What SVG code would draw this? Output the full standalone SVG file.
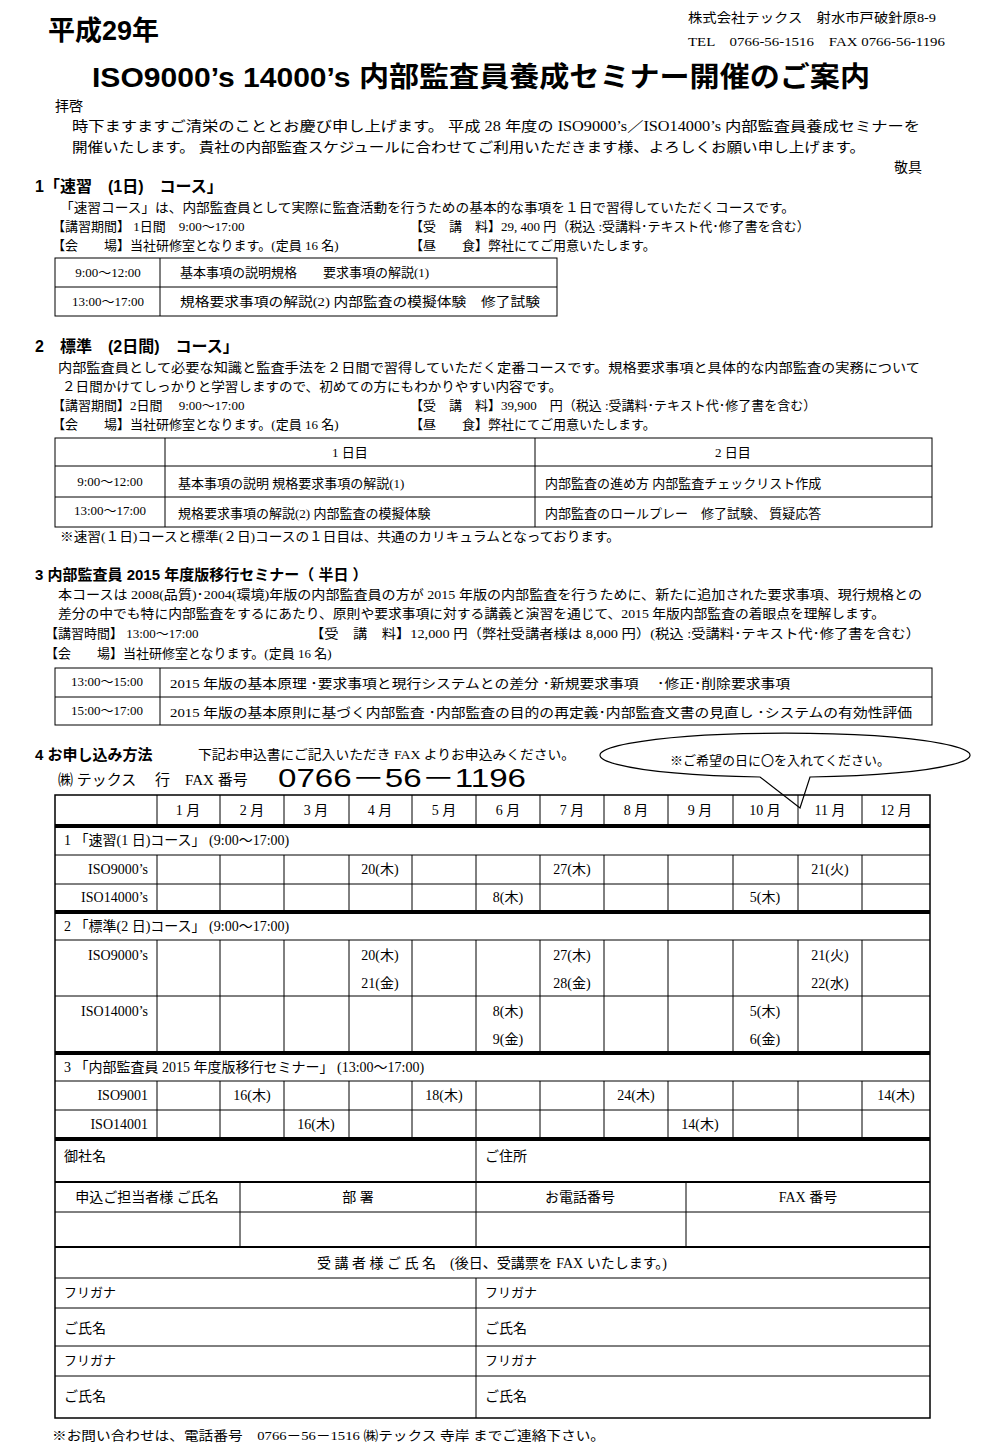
<svg xmlns="http://www.w3.org/2000/svg" width="1000" height="1449" viewBox="0 0 1000 1449">
<style>
text{font-family:"Liberation Serif","Noto Sans CJK JP",serif;font-size:14px;fill:#000}
.b{font-family:"Liberation Sans","Noto Sans CJK JP",sans-serif;font-weight:bold}
.c{text-anchor:middle}
.r{text-anchor:end}
line,rect{stroke:#000;stroke-width:1;fill:none}
.t{stroke-width:4}
</style>
<rect x="0" y="0" width="1000" height="1449" style="fill:#fff;stroke:none"/>
<g id="header">
<text x="48" y="40" class="b" style="font-size:27px">平成29年</text>
<text x="688" y="22" style="font-size:13px" textLength="248" lengthAdjust="spacingAndGlyphs">株式会社テックス　射水市戸破針原8-9</text>
<text x="688" y="46" style="font-size:13px" textLength="257" lengthAdjust="spacingAndGlyphs">TEL　0766-56-1516　FAX 0766-56-1196</text>
<text x="92" y="87" class="b" style="font-size:28px" textLength="778" lengthAdjust="spacingAndGlyphs">ISO9000’s 14000’s 内部監査員養成セミナー開催のご案内</text>
<text x="55" y="111">拝啓</text>
<text x="72" y="131" textLength="848" lengthAdjust="spacingAndGlyphs">時下ますますご清栄のこととお慶び申し上げます。 平成 28 年度の ISO9000’s／ISO14000’s 内部監査員養成セミナーを</text>
<text x="72" y="152" textLength="793" lengthAdjust="spacingAndGlyphs">開催いたします。 貴社の内部監査スケジュールに合わせてご利用いただきます様、よろしくお願い申し上げます。</text>
<text x="922" y="172" class="r">敬具</text>
</g>
<g id="sec1">
<text x="35" y="192" class="b" style="font-size:16px">1「速習　(1日)　コース」</text>
<text x="60" y="212" style="font-size:13px" textLength="735" lengthAdjust="spacingAndGlyphs">「速習コース」は、内部監査員として実際に監査活動を行うための基本的な事項を１日で習得していただくコースです。</text>
<text x="52" y="231" style="font-size:13px">【講習期間】 1日間　9:00～17:00</text>
<text x="410" y="231" style="font-size:13px">【受　講　料】29, 400 円（税込 :受講料･テキスト代･修了書を含む）</text>
<text x="52" y="250" style="font-size:13px">【会　　場】当社研修室となります。(定員 16 名)</text>
<text x="410" y="250" style="font-size:13px">【昼　　食】弊社にてご用意いたします。</text>
<rect x="55" y="258" width="502" height="58"/><line x1="55" y1="287" x2="557" y2="287"/><line x1="160" y1="258" x2="160" y2="316"/>
<text x="108" y="277" class="c" style="font-size:13px">9:00～12:00</text>
<text x="108" y="306" class="c" style="font-size:13px">13:00～17:00</text>
<text x="180" y="277" style="font-size:13px">基本事項の説明規格　　要求事項の解説(1)</text>
<text x="180" y="306" style="font-size:13px" textLength="360" lengthAdjust="spacingAndGlyphs">規格要求事項の解説(2)  内部監査の模擬体験　修了試験</text>
</g>
<g id="sec2">
<text x="35" y="352" class="b" style="font-size:16px">2　標準　(2日間)　コース」</text>
<text x="58" y="372" style="font-size:13px" textLength="862" lengthAdjust="spacingAndGlyphs">内部監査員として必要な知識と監査手法を２日間で習得していただく定番コースです。規格要求事項と具体的な内部監査の実務について</text>
<text x="62" y="391" style="font-size:13px" textLength="500" lengthAdjust="spacingAndGlyphs">２日間かけてしっかりと学習しますので、初めての方にもわかりやすい内容です。</text>
<text x="52" y="410" style="font-size:13px">【講習期間】2日間　 9:00～17:00</text>
<text x="410" y="410" style="font-size:13px">【受　講　料】39,900　円（税込 :受講料･テキスト代･修了書を含む）</text>
<text x="52" y="429" style="font-size:13px">【会　　場】当社研修室となります。(定員 16 名)</text>
<text x="410" y="429" style="font-size:13px">【昼　　食】弊社にてご用意いたします。</text>
<rect x="55" y="438" width="877" height="89"/><line x1="55" y1="466" x2="932" y2="466"/><line x1="55" y1="497" x2="932" y2="497"/>
<line x1="165" y1="438" x2="165" y2="527"/><line x1="535" y1="438" x2="535" y2="527"/>
<text x="350" y="457" class="c" style="font-size:13px">1 日目</text><text x="733" y="457" class="c" style="font-size:13px">2 日目</text>
<text x="110" y="486" class="c" style="font-size:13px">9:00～12:00</text><text x="110" y="515" class="c" style="font-size:13px">13:00～17:00</text>
<text x="178" y="488" style="font-size:13px">基本事項の説明  規格要求事項の解説(1)</text>
<text x="178" y="518" style="font-size:13px">規格要求事項の解説(2)  内部監査の模擬体験</text>
<text x="545" y="488" style="font-size:13px">内部監査の進め方  内部監査チェックリスト作成</text>
<text x="545" y="518" style="font-size:13px">内部監査のロールプレー　修了試験、 質疑応答</text>
<text x="60" y="541" style="font-size:13px" textLength="560" lengthAdjust="spacingAndGlyphs">※速習(１日)コースと標準(２日)コースの１日目は、共通のカリキュラムとなっております。</text>
</g>
<g id="sec3">
<text x="35" y="580" class="b" style="font-size:15px">3 内部監査員 2015 年度版移行セミナー（ 半日 ）</text>
<text x="58" y="599" style="font-size:13px" textLength="864" lengthAdjust="spacingAndGlyphs">本コースは 2008(品質)･2004(環境)年版の内部監査員の方が 2015 年版の内部監査を行うために、新たに追加された要求事項、現行規格との</text>
<text x="58" y="618" style="font-size:13px" textLength="827" lengthAdjust="spacingAndGlyphs">差分の中でも特に内部監査をするにあたり、原則や要求事項に対する講義と演習を通じて、2015 年版内部監査の着眼点を理解します。</text>
<text x="45" y="638" style="font-size:13px">【講習時間】 13:00～17:00</text>
<text x="310" y="638" style="font-size:13px" textLength="610" lengthAdjust="spacingAndGlyphs">【受　講　料】12,000 円（弊社受講者様は 8,000 円）(税込 :受講料･テキスト代･修了書を含む）</text>
<text x="45" y="658" style="font-size:13px">【会　　場】当社研修室となります。(定員 16 名)</text>
<rect x="55" y="668" width="877" height="57"/><line x1="55" y1="697" x2="932" y2="697"/><line x1="160" y1="668" x2="160" y2="725"/>
<text x="107" y="686" class="c" style="font-size:13px">13:00～15:00</text><text x="107" y="715" class="c" style="font-size:13px">15:00～17:00</text>
<text x="170" y="688" style="font-size:13px" textLength="620" lengthAdjust="spacingAndGlyphs">2015 年版の基本原理  ･要求事項と現行システムとの差分  ･新規要求事項　 ･修正･削除要求事項</text>
<text x="170" y="717" style="font-size:13px" textLength="742" lengthAdjust="spacingAndGlyphs">2015 年版の基本原則に基づく内部監査  ･内部監査の目的の再定義･内部監査文書の見直し  ･システムの有効性評価</text>
</g>
<g id="sec4">
<text x="35" y="760" class="b" style="font-size:15px">4 お申し込み方法</text>
<text x="198" y="759" style="font-size:13px" textLength="377" lengthAdjust="spacingAndGlyphs">下記お申込書にご記入いただき FAX よりお申込みください。</text>
<text x="58" y="785" style="font-size:15px">㈱ テックス　 行　FAX 番号</text>
<text x="278" y="787" class="b" style="font-size:25px;font-weight:normal" textLength="248" lengthAdjust="spacingAndGlyphs">0766－56－1196</text>
<path d="M760,777 A185,22 0 1,1 810,777 L800,808 Z" style="fill:#fff;stroke:#000;stroke-width:1.2"/>
<text x="780" y="765" class="c" style="font-size:13px">※ご希望の日に〇を入れてください。</text>
</g>
<g id="form">
<rect x="55" y="795" width="875" height="623" style="stroke-width:1.5"/>
<line x1="157" y1="795" x2="157" y2="826"/>
<line x1="157" y1="855" x2="157" y2="912"/><line x1="157" y1="940" x2="157" y2="1053"/><line x1="157" y1="1081" x2="157" y2="1139"/>
<line x1="55" y1="826" x2="930" y2="826" class="t"/>
<line x1="55" y1="855" x2="930" y2="855"/><line x1="55" y1="884" x2="930" y2="884"/>
<line x1="55" y1="912" x2="930" y2="912" class="t"/>
<line x1="55" y1="940" x2="930" y2="940"/><line x1="55" y1="996" x2="930" y2="996"/>
<line x1="55" y1="1053" x2="930" y2="1053" class="t"/>
<line x1="55" y1="1081" x2="930" y2="1081"/><line x1="55" y1="1110" x2="930" y2="1110"/>
<line x1="55" y1="1139" x2="930" y2="1139" class="t"/>
<line x1="55" y1="1182" x2="930" y2="1182" style="stroke-width:2"/><line x1="55" y1="1212" x2="930" y2="1212"/>
<line x1="55" y1="1247" x2="930" y2="1247" style="stroke-width:2"/><line x1="55" y1="1278" x2="930" y2="1278"/>
<line x1="55" y1="1308" x2="930" y2="1308"/><line x1="55" y1="1346" x2="930" y2="1346"/><line x1="55" y1="1376" x2="930" y2="1376"/>
<line x1="476" y1="1139" x2="476" y2="1247"/><line x1="476" y1="1278" x2="476" y2="1418"/>
<line x1="240" y1="1182" x2="240" y2="1247"/><line x1="686" y1="1182" x2="686" y2="1247"/>
<g>
<line x1="220" y1="795" x2="220" y2="826"/><line x1="284" y1="795" x2="284" y2="826"/><line x1="349" y1="795" x2="349" y2="826"/><line x1="412" y1="795" x2="412" y2="826"/><line x1="476" y1="795" x2="476" y2="826"/><line x1="540" y1="795" x2="540" y2="826"/><line x1="604" y1="795" x2="604" y2="826"/><line x1="668" y1="795" x2="668" y2="826"/><line x1="733" y1="795" x2="733" y2="826"/><line x1="798" y1="795" x2="798" y2="826"/><line x1="862" y1="795" x2="862" y2="826"/>
<line x1="220" y1="855" x2="220" y2="912"/><line x1="284" y1="855" x2="284" y2="912"/><line x1="349" y1="855" x2="349" y2="912"/><line x1="412" y1="855" x2="412" y2="912"/><line x1="476" y1="855" x2="476" y2="912"/><line x1="540" y1="855" x2="540" y2="912"/><line x1="604" y1="855" x2="604" y2="912"/><line x1="668" y1="855" x2="668" y2="912"/><line x1="733" y1="855" x2="733" y2="912"/><line x1="798" y1="855" x2="798" y2="912"/><line x1="862" y1="855" x2="862" y2="912"/>
<line x1="220" y1="940" x2="220" y2="1053"/><line x1="284" y1="940" x2="284" y2="1053"/><line x1="349" y1="940" x2="349" y2="1053"/><line x1="412" y1="940" x2="412" y2="1053"/><line x1="476" y1="940" x2="476" y2="1053"/><line x1="540" y1="940" x2="540" y2="1053"/><line x1="604" y1="940" x2="604" y2="1053"/><line x1="668" y1="940" x2="668" y2="1053"/><line x1="733" y1="940" x2="733" y2="1053"/><line x1="798" y1="940" x2="798" y2="1053"/><line x1="862" y1="940" x2="862" y2="1053"/>
<line x1="220" y1="1081" x2="220" y2="1139"/><line x1="284" y1="1081" x2="284" y2="1139"/><line x1="349" y1="1081" x2="349" y2="1139"/><line x1="412" y1="1081" x2="412" y2="1139"/><line x1="476" y1="1081" x2="476" y2="1139"/><line x1="540" y1="1081" x2="540" y2="1139"/><line x1="604" y1="1081" x2="604" y2="1139"/><line x1="668" y1="1081" x2="668" y2="1139"/><line x1="733" y1="1081" x2="733" y2="1139"/><line x1="798" y1="1081" x2="798" y2="1139"/><line x1="862" y1="1081" x2="862" y2="1139"/>
</g>
<g style="font-size:13px">
<text x="188" y="815" class="c">1 月</text><text x="252" y="815" class="c">2 月</text><text x="316" y="815" class="c">3 月</text><text x="380" y="815" class="c">4 月</text><text x="444" y="815" class="c">5 月</text><text x="508" y="815" class="c">6 月</text><text x="572" y="815" class="c">7 月</text><text x="636" y="815" class="c">8 月</text><text x="700" y="815" class="c">9 月</text><text x="765" y="815" class="c">10 月</text><text x="830" y="815" class="c">11 月</text><text x="896" y="815" class="c">12 月</text>
<text x="64" y="845">1 「速習(1 日)コース」 (9:00～17:00)</text>
<text x="148" y="874" class="r">ISO9000’s</text><text x="148" y="902" class="r">ISO14000’s</text>
<text x="380" y="874" class="c">20(木)</text><text x="572" y="874" class="c">27(木)</text><text x="830" y="874" class="c">21(火)</text>
<text x="508" y="902" class="c">8(木)</text><text x="765" y="902" class="c">5(木)</text>
<text x="64" y="931">2 「標準(2 日)コース」 (9:00～17:00)</text>
<text x="148" y="960" class="r">ISO9000’s</text><text x="148" y="1016" class="r">ISO14000’s</text>
<text x="380" y="960" class="c">20(木)</text><text x="380" y="988" class="c">21(金)</text><text x="572" y="960" class="c">27(木)</text><text x="572" y="988" class="c">28(金)</text><text x="830" y="960" class="c">21(火)</text><text x="830" y="988" class="c">22(水)</text>
<text x="508" y="1016" class="c">8(木)</text><text x="508" y="1044" class="c">9(金)</text><text x="765" y="1016" class="c">5(木)</text><text x="765" y="1044" class="c">6(金)</text>
<text x="64" y="1072">3 「内部監査員 2015 年度版移行セミナー」 (13:00～17:00)</text>
<text x="148" y="1100" class="r">ISO9001</text><text x="148" y="1129" class="r">ISO14001</text>
<text x="252" y="1100" class="c">16(木)</text><text x="444" y="1100" class="c">18(木)</text><text x="636" y="1100" class="c">24(木)</text><text x="896" y="1100" class="c">14(木)</text>
<text x="316" y="1129" class="c">16(木)</text><text x="700" y="1129" class="c">14(木)</text>
</g>
<g>
<text x="64" y="1161">御社名</text><text x="485" y="1161">ご住所</text>
<text x="147" y="1202" class="c">申込ご担当者様  ご氏名</text><text x="358" y="1202" class="c">部  署</text><text x="580" y="1202" class="c">お電話番号</text><text x="808" y="1202" class="c">FAX 番号</text>
<text x="492" y="1268" class="c">受 講 者 様 ご 氏 名　(後日、受講票を FAX いたします。)</text>
<text x="64" y="1297" style="font-size:13px">フリガナ</text><text x="485" y="1297" style="font-size:13px">フリガナ</text>
<text x="64" y="1333">ご氏名</text><text x="485" y="1333">ご氏名</text>
<text x="64" y="1365" style="font-size:13px">フリガナ</text><text x="485" y="1365" style="font-size:13px">フリガナ</text>
<text x="64" y="1401">ご氏名</text><text x="485" y="1401">ご氏名</text>
</g>
</g>
<text x="52" y="1440" style="font-size:13px" textLength="553" lengthAdjust="spacingAndGlyphs">※お問い合わせは、電話番号　0766－56－1516  ㈱テックス  寺岸  までご連絡下さい。</text>
</svg>
